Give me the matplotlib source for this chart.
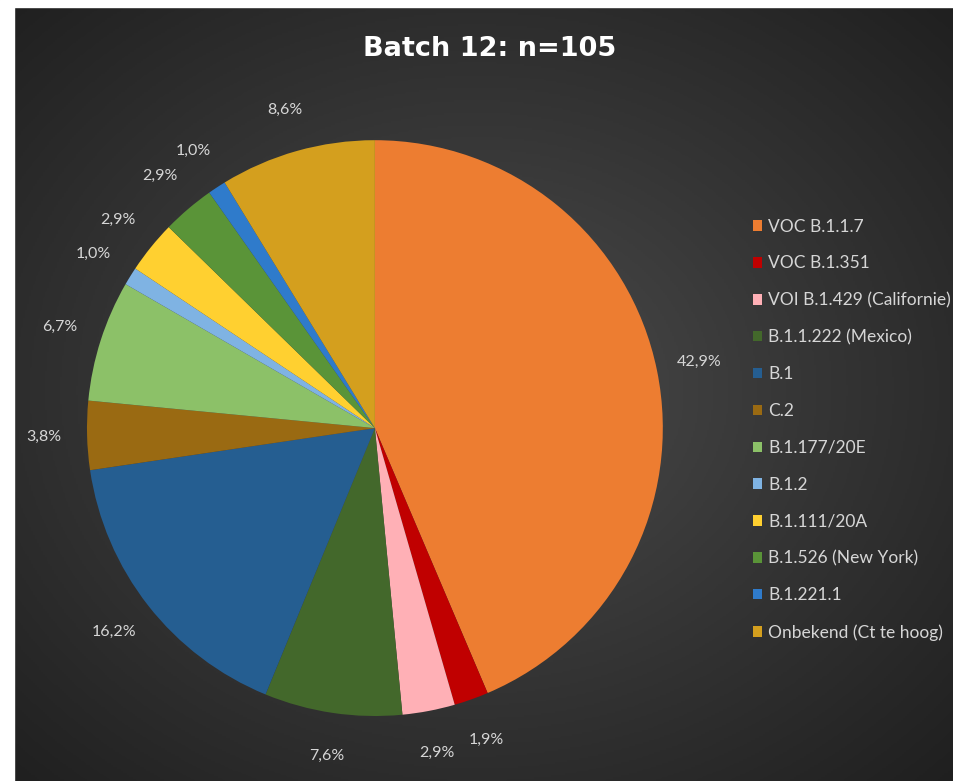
import numpy as np
import matplotlib.pyplot as plt
from matplotlib.colors import LinearSegmentedColormap
from matplotlib.patches import Rectangle

# Data
variants = ["VOC B.1.1.7", "VOC B.1.351", "VOI B.1.429 (Californie)", "B.1.1.222 (Mexico)",
            "B.1", "C.2", "B.1.177/20E", "B.1.2", "B.1.111/20A", "B.1.526 (New York)",
            "B.1.221.1", "Onbekend (Ct te hoog)"]
percentages = [42.9, 1.9, 2.9, 7.6, 16.2, 3.8, 6.7, 1.0, 2.9, 2.9, 1.0, 8.6]
colors = ["#ED7D31", "#C00000", "#FFB0B6", "#43682B", "#255E91", "#9A6A12",
          "#8CC168", "#7FB3E3", "#FFD030", "#5A9438", "#2F7BCB", "#D49F1E"]
title = "Batch 12: n=105"

plt.rcParams['font.family'] = ['Lato', 'DejaVu Sans']

fig = plt.figure(figsize=(9.54, 7.81), dpi=100, facecolor="#333333")

# background with radial gradient
bg = fig.add_axes([0, 0, 1, 1])
yy, xx = np.mgrid[0:1:400j, 0:1:490j]
dist = np.sqrt(((xx - 0.5) / 0.75) ** 2 + ((yy - 0.5) / 0.75) ** 2)
cmap = LinearSegmentedColormap.from_list("bg", ["#4c4c4c", "#353535", "#1f1f1f"])
bg.imshow(dist, cmap=cmap, aspect="auto", extent=[0, 1, 0, 1], vmin=0, vmax=0.95)
bg.set_xlim(0, 1)
bg.set_ylim(0, 1)
bg.set_axis_off()
# white border on top and left of the screenshot
bg.add_patch(Rectangle((0, 0), 14 / 954, 1, color="white", zorder=3))
bg.add_patch(Rectangle((0, 1 - 7 / 781), 1, 7 / 781, color="white", zorder=3))

# pie
ax = fig.add_axes([29.4 / 954, 7.4 / 781, 691 / 954, 691 / 781])
wedges, texts = ax.pie(percentages, colors=colors, startangle=90, counterclock=False,
                       labels=[f"{p:.1f}%".replace(".", ",") for p in percentages],
                       labeldistance=1.15,
                       textprops=dict(ha="center", va="center", color="#d6d6d6", fontsize=11.5))
ax.set_xlim(-1.2, 1.2)
ax.set_ylim(-1.2, 1.2)
ax.set_aspect("equal")
ax.set_axis_off()

fig.text(490 / 954, 1 - 49 / 781, title, ha="center", va="center", color="white",
         fontsize=19.5, fontweight="bold", family="DejaVu Sans")

leg = fig.legend(wedges, variants, loc="upper left", bbox_to_anchor=(737 / 954, 1 - 203 / 781),
                 frameon=False, fontsize=12.5, labelcolor="#d6d6d6", labelspacing=1.2,
                 handlelength=0.55, handleheight=0.55, handletextpad=0.35)

fig.savefig("out.png", dpi=100, facecolor=fig.get_facecolor())
